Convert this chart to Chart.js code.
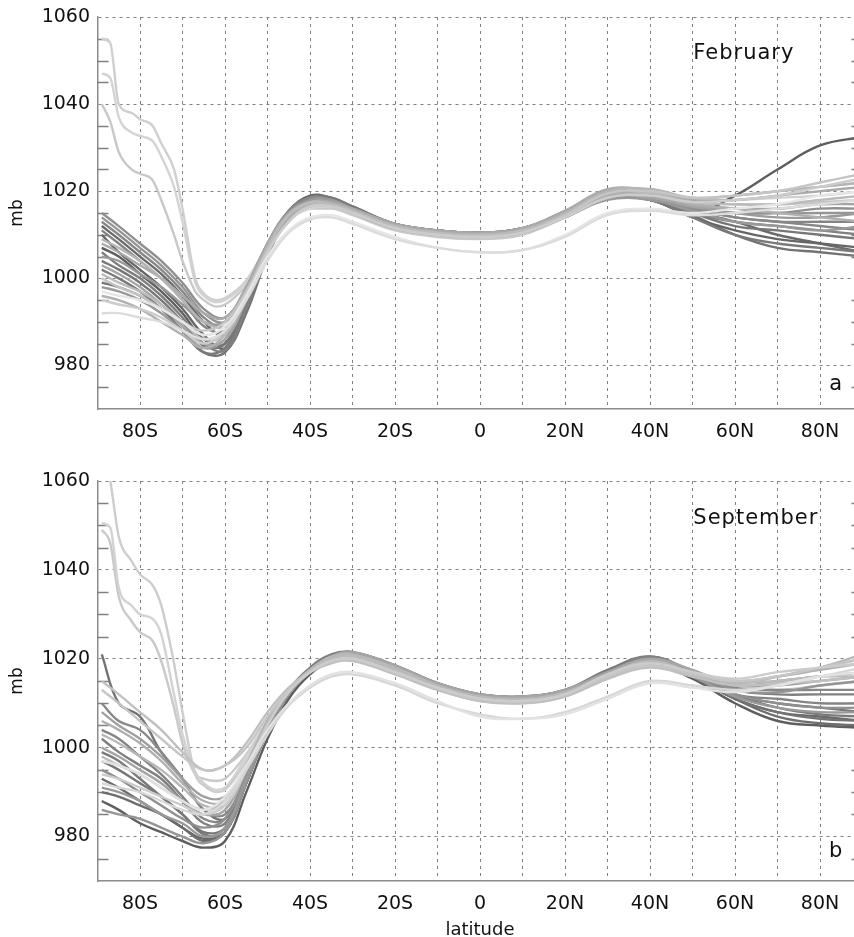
<!DOCTYPE html>
<html>
<head>
<meta charset="utf-8">
<title>Zonal mean sea level pressure</title>
<script src="https://cdn.jsdelivr.net/npm/chart.js@4.4.0/dist/chart.umd.min.js"></script>
<style>
    html, body { margin: 0; padding: 0; background: #fff; overflow: hidden; width: 854px; height: 937px; }
    .panel { position: absolute; left: 0; width: 880px; }
    #topPanel { top: 0; height: 445px; }
    #botPanel { top: 445px; height: 500px; }
</style>
</head>
<body>
<div class="panel" id="topPanel"><canvas id="febChart"></canvas></div>
<div class="panel" id="botPanel"><canvas id="sepChart"></canvas></div>

<script>
// latitudes (deg, negative = south)
const LAT = [-89, -85, -80, -75, -70, -65, -60, -55, -50, -45, -40, -35, -30, -20, -10, 0, 10, 20, 30, 40, 50, 60, 70, 80, 90];
// denser sampling for the few runs with very high polar pressure
const LAT_HI = [-89, -87, -85, -82, -80, -77, -75, -72, -70, -67, -65, -62, -60, -55, -50, -45, -40, -35, -30, -20, -10, 0, 10, 20, 30, 40, 50, 60, 70, 80, 90];

const Y_TICKS = [980, 1000, 1020, 1040, 1060];

// ---- February (mb) ----
const feb01 = [1010, 1006, 1002, 998, 993, 987, 984, 994, 1007, 1015, 1018.5, 1018, 1016, 1012, 1010.5, 1010, 1011, 1014, 1018.5, 1018, 1014, 1011, 1009, 1008, 1007];
const feb02 = [1004, 1002, 999, 995, 990, 984.5, 985, 995, 1007, 1015, 1018, 1017.5, 1015.5, 1012, 1010.5, 1010, 1011, 1014.5, 1019, 1018.5, 1015, 1012, 1011, 1010, 1009];
const feb03 = [1013, 1010, 1006, 1002, 997, 991, 989, 997, 1008, 1015.5, 1018.5, 1018, 1016, 1012.5, 1011, 1010.5, 1011.5, 1015, 1019.5, 1019, 1016, 1014, 1013, 1012, 1011];
const feb04 = [998, 997, 995, 992, 988, 984, 986, 995, 1006, 1014, 1017.5, 1017, 1015, 1011.5, 1010, 1009.5, 1010.5, 1014, 1018, 1018, 1015.5, 1013, 1012, 1011, 1012];
const feb05 = [1008, 1006, 1003, 1000, 996, 992, 991, 998, 1008, 1015, 1017.5, 1017.5, 1016, 1012.5, 1011, 1010.5, 1011.5, 1015.5, 1020.5, 1020, 1018, 1018, 1019, 1020, 1021];
const feb06 = [1001, 999, 997, 994, 990, 986, 987, 996, 1007, 1014.5, 1017.5, 1017, 1015.5, 1012, 1010.5, 1010, 1011, 1014.5, 1019.5, 1019.5, 1017.5, 1017, 1017, 1018, 1019];
const feb07 = [995, 994, 993, 991, 988, 985, 988, 996, 1006, 1013, 1016.5, 1016.5, 1015, 1011.5, 1010, 1009.5, 1010.5, 1014, 1018.5, 1019, 1017.5, 1018, 1019, 1021, 1023];
const feb08 = [1012, 1009, 1005, 1001, 996, 990, 987, 995, 1007, 1015.5, 1019, 1018.5, 1016.5, 1012.5, 1011, 1010.5, 1011.5, 1015, 1020, 1019, 1015.5, 1013, 1010, 1008, 1006];
const feb09 = [1006, 1003, 1000, 996, 991, 985, 983.5, 993, 1006, 1014.5, 1018, 1018, 1016, 1012, 1010.5, 1010, 1011, 1014.5, 1018.5, 1018.5, 1015, 1013, 1012, 1011, 1010];
const feb10 = [1015, 1012, 1008, 1004, 999, 993, 991, 998, 1008, 1015, 1018, 1017.5, 1015.5, 1012, 1010.5, 1010, 1011, 1014.5, 1019, 1018.5, 1016, 1015, 1015, 1016, 1016];
const feb11 = [1003, 1001, 998, 994, 989, 985, 986, 995, 1006, 1014, 1017.5, 1017.5, 1015.5, 1012, 1010.5, 1010, 1011, 1014, 1018.5, 1018.5, 1016.5, 1016, 1016, 1017, 1017];
const feb12 = [1009, 1007, 1004, 1000, 995, 990, 989, 997, 1007, 1014.5, 1017, 1017, 1015.5, 1012, 1010.5, 1010, 1011, 1015, 1020, 1020.5, 1018.5, 1019, 1020, 1021, 1022];
const feb13 = [1000, 998, 996, 993, 990, 988, 990, 997, 1006, 1013, 1016.5, 1016.5, 1015, 1011.5, 1010, 1009.5, 1010.5, 1014.5, 1019.5, 1020, 1018.5, 1019, 1020, 1022, 1024];
const feb14 = [992, 992, 991, 990, 988, 986, 988, 995, 1004, 1010.5, 1013.5, 1014, 1012.5, 1009, 1007, 1006, 1006.5, 1009.5, 1014.5, 1015.5, 1014.5, 1015, 1016, 1017, 1018];
const feb15 = [997, 996, 995, 993, 990, 987, 989, 996, 1005, 1011, 1014, 1014.5, 1013, 1009.5, 1007, 1006, 1006.5, 1010, 1015, 1016, 1015, 1016, 1017, 1019, 1020];
const feb16 = [999, 998, 996, 993, 989, 983, 983, 992, 1005, 1014, 1018, 1018, 1016, 1012, 1010.5, 1010, 1011, 1014.5, 1019, 1018.5, 1014.5, 1010, 1007, 1006, 1005];
const feb17 = [1011, 1008, 1004, 1000, 995, 989, 988, 996, 1007, 1015, 1018.5, 1018, 1016, 1012.5, 1011, 1010.5, 1011.5, 1015, 1019.5, 1019, 1016, 1014, 1013, 1013, 1013];
const feb18 = [1005, 1004, 1001, 998, 994, 990, 990, 997, 1007, 1014.5, 1018, 1018, 1016, 1012, 1010.5, 1010, 1011, 1014.5, 1019, 1019, 1016.5, 1015, 1014, 1014, 1015];
const feb19 = [1007, 1005, 1001, 997, 992, 986, 985, 994, 1006, 1014.5, 1018, 1018, 1016, 1012, 1010.5, 1010, 1011, 1014.5, 1018.5, 1018, 1015, 1019, 1025, 1030.5, 1032.5];
const feb20 = [1002, 1000, 997, 993, 988, 983, 984, 994, 1006, 1014.5, 1018.5, 1018.5, 1016.5, 1012.5, 1011, 1010.5, 1011.5, 1015, 1019, 1018, 1014, 1010, 1008, 1007, 1006];
const feb21 = [1014, 1011, 1007, 1003, 998, 992, 990, 997, 1008, 1015, 1018, 1017.5, 1016, 1012.5, 1011, 1010.5, 1011.5, 1015.5, 1020, 1019.5, 1017, 1016, 1015, 1015, 1015];
const feb22 = [996, 995, 993, 990, 987, 984, 987, 996, 1006, 1013.5, 1017, 1017, 1015.5, 1012, 1010.5, 1010, 1011, 1014.5, 1019, 1019, 1017, 1016, 1015, 1014, 1013];
// runs on LAT_HI
const febHi1 = [1055, 1054, 1040, 1038, 1036.5, 1035, 1031, 1025, 1016, 1000, 996.5, 995, 995.5, 999.5, 1007.5, 1014, 1016.5, 1016.5, 1015, 1011.5, 1010, 1009.5, 1010.5, 1014.5, 1019.5, 1020, 1018, 1018, 1018.5, 1019, 1020];
const febHi2 = [1047, 1046, 1037, 1033.5, 1032.7, 1031.5, 1028, 1021, 1013, 999, 996, 994.5, 995, 999, 1007.5, 1013.5, 1016, 1016.5, 1015, 1011.5, 1010, 1009.5, 1010.5, 1014, 1019, 1019.5, 1018, 1019, 1020, 1021, 1022];
const febHi3 = [1040, 1036, 1029, 1025, 1024, 1022.5, 1018, 1010, 1004, 997, 995, 993.5, 994, 998.5, 1007, 1013.5, 1016, 1016, 1014.5, 1011, 1009.5, 1009, 1010, 1014, 1019, 1019.5, 1017.5, 1017, 1017, 1017.5, 1018];

// ---- September (mb) ----
const sep01 = [988, 986, 983, 981, 979, 977.5, 979, 990, 1002, 1011, 1016.5, 1019.5, 1020.5, 1017.5, 1013.5, 1011, 1010.5, 1012, 1016, 1019, 1015.5, 1010, 1006, 1005, 1004.5];
const sep02 = [993, 991, 988, 985, 982, 979.5, 981, 992, 1003.5, 1012, 1017, 1020, 1021, 1018, 1014, 1011.5, 1011, 1012.5, 1016.5, 1019.5, 1016, 1011, 1008, 1007, 1006];
const sep03 = [997, 995, 992, 989, 985, 981, 982, 993, 1004.5, 1012.5, 1017.5, 1020.5, 1021, 1018, 1014, 1011.5, 1011, 1012.5, 1017, 1020, 1016.5, 1012, 1010, 1009, 1008];
const sep04 = [1002, 999, 996, 993, 988, 983, 983, 993, 1005, 1013, 1018, 1021, 1021.5, 1018.5, 1014.5, 1012, 1011.5, 1013, 1017, 1020.5, 1017, 1013, 1012, 1012, 1012];
const sep05 = [1010, 1006, 1004, 999, 993, 986, 985, 994, 1005.5, 1013, 1017.5, 1020.5, 1021, 1018, 1014, 1011.5, 1011, 1012.5, 1016.5, 1019.5, 1016.5, 1013.5, 1013, 1013, 1013];
const sep06 = [995, 993, 990, 987, 984, 982, 984, 994, 1005, 1012.5, 1017, 1020, 1020.5, 1017.5, 1013.5, 1011, 1010.5, 1012, 1016, 1019, 1016, 1012, 1010, 1009, 1009];
const sep07 = [991, 990, 988, 985, 983, 980, 982, 993, 1004.5, 1012.5, 1017.5, 1020.5, 1021, 1018, 1014, 1011.5, 1011, 1012.5, 1016.5, 1019.5, 1016, 1011.5, 1009, 1008, 1008];
const sep08 = [1000, 998, 995, 992, 988, 985, 986, 995, 1005.5, 1013, 1017.5, 1020.5, 1021.5, 1018.5, 1014.5, 1012, 1011.5, 1013, 1017, 1020, 1017.5, 1014, 1015, 1016, 1017];
const sep09 = [1006, 1004, 1001, 997, 992, 988, 988, 996, 1006, 1013, 1017, 1020, 1020.5, 1017.5, 1013.5, 1011, 1010.5, 1012, 1016, 1019, 1017, 1015, 1016, 1017.5, 1019];
const sep10 = [998, 996, 994, 991, 988, 986, 988, 996, 1005.5, 1012.5, 1017, 1020, 1020.5, 1017.5, 1013.5, 1011, 1010.5, 1012, 1016, 1019, 1017, 1015, 1015, 1016, 1016];
const sep11 = [1013, 1010, 1006, 1002, 998, 995, 996, 1000, 1007, 1013, 1017, 1019.5, 1020, 1017, 1013.5, 1011, 1010.5, 1012, 1016, 1018.5, 1016.5, 1015, 1016, 1018, 1020];
const sep12 = [994, 993, 991, 989, 987, 985, 987, 995, 1005, 1012.5, 1017, 1019.5, 1020, 1017, 1013.5, 1011, 1010.5, 1012, 1016.5, 1019, 1017, 1015.5, 1017, 1018, 1019];
const sep13 = [992, 991, 990, 988, 986, 985, 988, 995, 1003, 1009.5, 1013.5, 1016, 1016.5, 1014, 1010, 1007.5, 1006.5, 1008, 1011.5, 1015, 1014, 1013, 1014, 1016, 1018];
const sep14 = [997, 996, 994, 991, 988, 986, 989, 996, 1004, 1010, 1014, 1016.5, 1017, 1014.5, 1010.5, 1007, 1006.5, 1007.5, 1011, 1014.5, 1013.5, 1012.5, 1014, 1016, 1017];
const sep15 = [1021, 1010, 1007, 999, 993, 986, 984, 993, 1004.5, 1012.5, 1017.5, 1020.5, 1021, 1018, 1014, 1011.5, 1011, 1012.5, 1016.5, 1019.5, 1016, 1011, 1008, 1006.5, 1006];
const sep16 = [1004, 1002, 998, 994, 989, 984, 984, 994, 1005, 1013, 1017.5, 1020.5, 1021, 1018, 1014, 1011.5, 1011, 1012.5, 1017, 1020, 1016.5, 1012, 1011, 1010, 1010];
const sep17 = [986, 985, 984, 982, 980, 978.5, 981, 992, 1004, 1012, 1017, 1020, 1020.5, 1017.5, 1013.5, 1011, 1010.5, 1012, 1016.5, 1019.5, 1016.5, 1013, 1012.5, 1014, 1015];
const sep18 = [1008, 1005, 1002, 998, 993, 989, 989, 996, 1006, 1013, 1017.5, 1020, 1020.5, 1017.5, 1013.5, 1011, 1010.5, 1012, 1016, 1019, 1016.5, 1014, 1014, 1015, 1016];
const sep19 = [999, 997, 993, 989, 985, 980.5, 981, 992, 1004, 1012.5, 1017.5, 1020.5, 1021.5, 1018.5, 1014.5, 1012, 1011.5, 1013, 1017.5, 1020.5, 1017, 1012, 1009, 1007.5, 1007];
const sep20 = [1003, 1001, 998, 995, 991, 987, 987, 995, 1005.5, 1013, 1017.5, 1020.5, 1021, 1018, 1014, 1011.5, 1011, 1012.5, 1016.5, 1019.5, 1017, 1014.5, 1016, 1018, 1021];
const sep21 = [1015, 1012, 1008, 1004, 999, 995, 996, 1001, 1008, 1013.5, 1017, 1019, 1019.5, 1016.5, 1013, 1010.5, 1010, 1011.5, 1015.5, 1018, 1016, 1014, 1014.5, 1015, 1016];
const sep22 = [990, 989, 987, 985, 982, 979, 981, 992, 1004, 1012.5, 1017.5, 1020.5, 1021, 1018, 1014, 1011.5, 1011, 1012.5, 1016.5, 1019.5, 1016, 1011, 1007, 1005.5, 1005];
// runs on LAT_HI
const sepHi1 = [1068, 1060, 1047.5, 1042, 1039, 1036.5, 1032, 1019, 1008, 994, 991.5, 990, 990.5, 997, 1006, 1013, 1017, 1019.5, 1020, 1017, 1013.5, 1011, 1010.5, 1012, 1016, 1018.5, 1016, 1013, 1013, 1014, 1015];
const sepHi2 = [1050.5, 1049.5, 1036, 1032, 1030, 1029, 1025.5, 1012, 1003, 994.5, 992, 990.5, 991, 998, 1006, 1013, 1017.5, 1020, 1020.5, 1017.5, 1013.5, 1011, 1010.5, 1012, 1016, 1019, 1016.5, 1014, 1015, 1016, 1017];
const sepHi3 = [1049, 1046, 1034, 1028.5, 1026, 1024, 1019.5, 1009, 1001, 994, 993, 992.5, 993, 998.5, 1006, 1012.5, 1017, 1019.5, 1020, 1017, 1013, 1010.5, 1010, 1011.5, 1015.5, 1018.5, 1016, 1014, 1016, 1018, 1020];

const FEB_LINES = [feb14, feb15, feb07, feb13, feb06, feb12, feb05, feb22, feb11, feb04, feb18, feb21, feb10, feb03, feb17, feb09, feb02, feb20, feb01, feb16, feb08, feb19];
const FEB_COLORS = ['#dcdcdc', '#e6e6e6', '#cccccc', '#c5c5c5', '#bbbbbb', '#b5b5b5', '#aaaaaa', '#b0b0b0', '#a5a5a5', '#999999', '#9a9a9a', '#959595', '#909090', '#888888', '#858585', '#808080', '#777777', '#7a7a7a', '#666666', '#737373', '#6a6a6a', '#5e5e5e'];
const FEB_HI = [febHi1, febHi2, febHi3];
const FEB_HI_COLORS = ['#cfcfcf', '#d4d4d4', '#c8c8c8'];

const SEP_LINES = [sep14, sep13, sep12, sep11, sep21, sep10, sep20, sep09, sep08, sep18, sep07, sep17, sep06, sep05, sep16, sep04, sep03, sep19, sep15, sep02, sep22, sep01];
const SEP_COLORS = ['#e2e2e2', '#d7d7d7', '#cccccc', '#c5c5c5', '#c0c0c0', '#bbbbbb', '#b8b8b8', '#b0b0b0', '#a5a5a5', '#a0a0a0', '#999999', '#959595', '#909090', '#888888', '#858585', '#808080', '#777777', '#7a7a7a', '#737373', '#6a6a6a', '#6e6e6e', '#5e5e5e'];
const SEP_HI = [sepHi1, sepHi2, sepHi3];
const SEP_HI_COLORS = ['#cdcdcd', '#d2d2d2', '#c9c9c9'];

Chart.defaults.font.family = '"DejaVu Sans", sans-serif';
Chart.defaults.color = '#111';

function makeSets(lines, colors, lat, smooth) {
    return lines.map((vals, i) => ({
        data: lat.map((x, j) => ({ x: x, y: vals[j] })),
        borderColor: colors[i],
        borderWidth: 2.4,
        pointRadius: 0,
        fill: false,
        tension: smooth ? 0.4 : 0,
        cubicInterpolationMode: smooth ? 'default' : 'monotone'
    }));
}

// little inward ticks every 5 mb on both sides
const minorTicks = {
    id: 'minorTicks',
    beforeDatasetsDraw(chart) {
        const { ctx, chartArea: a } = chart;
        const y = chart.scales.y;
        ctx.save();
        ctx.strokeStyle = '#808080';
        ctx.lineWidth = 1.5;
        for (let v = 975; v < 1060; v += 5) {
            if (v % 20 === 0) continue;
            const py = Math.round(y.getPixelForValue(v)) + 0.5;
            ctx.beginPath();
            ctx.moveTo(a.left, py);
            ctx.lineTo(a.left + 11, py);
            ctx.moveTo(a.right - 11, py);
            ctx.lineTo(a.right, py);
            ctx.stroke();
        }
        ctx.restore();
    }
};

const panelText = {
    id: 'panelText',
    afterDraw(chart, args, o) {
        const { ctx } = chart;
        const x = chart.scales.x, y = chart.scales.y;
        ctx.save();
        ctx.fillStyle = '#111';
        ctx.font = '21px "DejaVu Sans", sans-serif';
        ctx.letterSpacing = '1px';
        ctx.textBaseline = 'middle';
        ctx.textAlign = 'left';
        ctx.fillText(o.month, x.getPixelForValue(o.monthAt[0]), y.getPixelForValue(o.monthAt[1]));
        ctx.textAlign = 'center';
        ctx.fillText(o.letter, x.getPixelForValue(o.letterAt[0]), y.getPixelForValue(o.letterAt[1]));
        ctx.restore();
    }
};

function latLabel(v) {
    if (v % 20 !== 0 || Math.abs(v) >= 90) return '';
    if (v < 0) return (-v) + 'S';
    if (v > 0) return v + 'N';
    return '0';
}

function buildChart(id, sets, cfg) {
    return new Chart(document.getElementById(id), {
        type: 'line',
        data: { datasets: sets },
        plugins: [minorTicks, panelText],
        options: {
            responsive: true,
            maintainAspectRatio: false,
            animation: false,
            devicePixelRatio: 1,
            layout: { padding: { top: cfg.padTop, right: 17.5, bottom: 0, left: 0 } },
            plugins: {
                legend: { display: false },
                tooltip: { enabled: false },
                panelText: cfg.text
            },
            scales: {
                x: {
                    type: 'linear',
                    min: -90,
                    max: 90,
                    afterFit: s => { s.height = cfg.xHeight; },
                    ticks: {
                        stepSize: 10,
                        autoSkip: false,
                        maxRotation: 0,
                        padding: 14,
                        font: { size: 19, lineHeight: 1 },
                        callback: latLabel
                    },
                    grid: { color: '#808080', lineWidth: 1, drawTicks: false },
                    border: { display: true, color: '#8c8c8c', width: 1.5, dash: [3, 4] },
                    title: {
                        display: cfg.showTitle,
                        text: 'latitude',
                        font: { size: 18, lineHeight: 1 },
                        padding: { top: 0, bottom: 6 }
                    }
                },
                y: {
                    min: 970,
                    max: 1060,
                    afterFit: s => { s.width = 97.5; },
                    afterBuildTicks: s => { s.ticks = Y_TICKS.map(v => ({ value: v })); },
                    ticks: { padding: 7.5, font: { size: 19, lineHeight: 1 }, callback: v => String(v) },
                    grid: { color: '#808080', lineWidth: 1, drawTicks: false },
                    border: { display: true, color: '#8c8c8c', width: 1.5, dash: [3, 4] },
                    title: {
                        display: true,
                        text: 'mb',
                        font: { size: 17, lineHeight: 1 },
                        padding: { top: 9.5, bottom: 0 }
                    }
                }
            }
        }
    });
}

buildChart('febChart',
    makeSets(FEB_LINES, FEB_COLORS, LAT, true).concat(makeSets(FEB_HI, FEB_HI_COLORS, LAT_HI, false)),
    { padTop: 10, xHeight: 36, showTitle: false,
      text: { month: 'February', monthAt: [50.2, 1051.6], letter: 'a', letterAt: [83.8, 975.5] } });

buildChart('sepChart',
    makeSets(SEP_LINES, SEP_COLORS, LAT, true).concat(makeSets(SEP_HI, SEP_HI_COLORS, LAT_HI, false)),
    { padTop: 36, xHeight: 64, showTitle: true,
      text: { month: 'September', monthAt: [50.2, 1051.5], letter: 'b', letterAt: [83.8, 976.6] } });
</script>
</body>
</html>
